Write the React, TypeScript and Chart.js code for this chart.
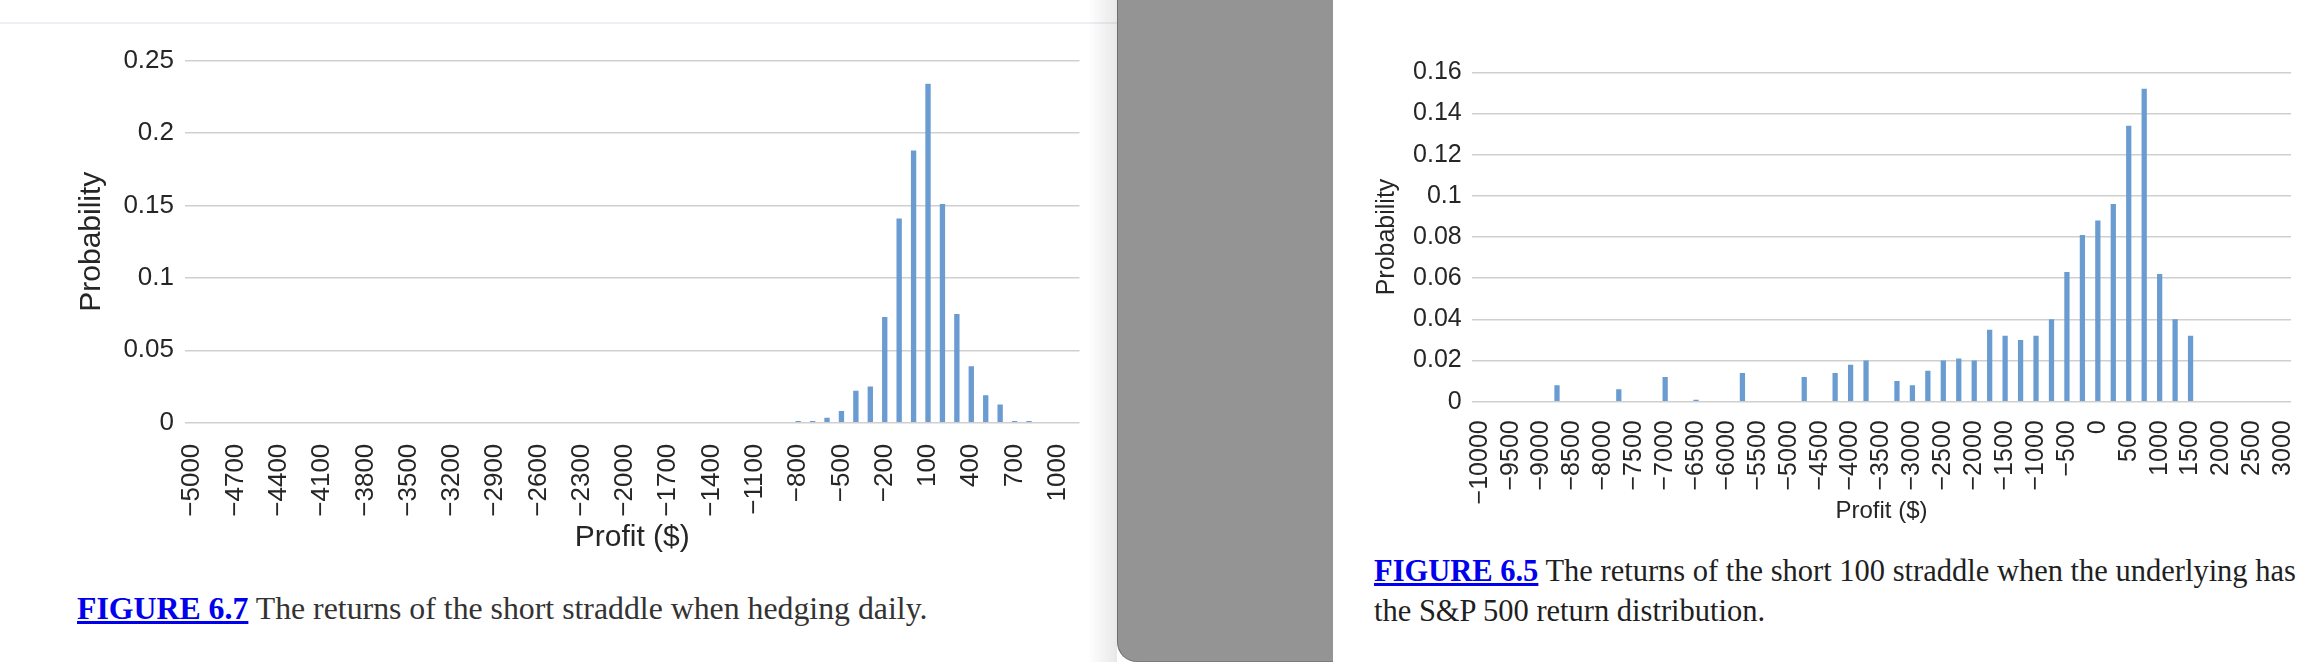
import React, { useEffect, useRef } from "react";
import { Chart, registerables } from "chart.js";

Chart.register(...registerables);

// ---------- DATA ----------
// Figure 6.7: short straddle, hedging daily (profit buckets of $100)
const hedgeProfitCategories = [
  -5000, -4900, -4800, -4700, -4600, -4500, -4400, -4300, -4200, -4100,
  -4000, -3900, -3800, -3700, -3600, -3500, -3400, -3300, -3200, -3100,
  -3000, -2900, -2800, -2700, -2600, -2500, -2400, -2300, -2200, -2100,
  -2000, -1900, -1800, -1700, -1600, -1500, -1400, -1300, -1200, -1100,
  -1000, -900, -800, -700, -600, -500, -400, -300, -200, -100,
  0, 100, 200, 300, 400, 500, 600, 700, 800, 900,
  1000, 1100,
];
const hedgeProbabilities = [
  0, 0, 0, 0, 0, 0, 0, 0, 0, 0,
  0, 0, 0, 0, 0, 0, 0, 0, 0, 0,
  0, 0, 0, 0, 0, 0, 0, 0, 0, 0,
  0, 0, 0, 0, 0, 0, 0, 0, 0, 0,
  0, 0, 0.0012, 0.0012, 0.0035, 0.008, 0.022, 0.025, 0.073, 0.141,
  0.188, 0.234, 0.151, 0.075, 0.039, 0.019, 0.0125, 0.0012, 0.0012, 0,
  0, 0,
];
const hedgeYTicks = [0, 0.05, 0.1, 0.15, 0.2, 0.25];

// Figure 6.5: short 100 straddle, S&P 500 return distribution (buckets of $250)
const spxProfitCategories = [
  -10000, -9750, -9500, -9250, -9000, -8750, -8500, -8250, -8000, -7750,
  -7500, -7250, -7000, -6750, -6500, -6250, -6000, -5750, -5500, -5250,
  -5000, -4750, -4500, -4250, -4000, -3750, -3500, -3250, -3000, -2750,
  -2500, -2250, -2000, -1750, -1500, -1250, -1000, -750, -500, -250,
  0, 250, 500, 750, 1000, 1250, 1500, 1750, 2000, 2250,
  2500, 2750, 3000,
];
const spxProbabilities = [
  0, 0, 0, 0, 0, 0.008, 0, 0, 0, 0.006,
  0, 0, 0.012, 0, 0.001, 0, 0, 0.014, 0, 0,
  0, 0.012, 0, 0.014, 0.018, 0.02, 0, 0.01, 0.008, 0.015,
  0.02, 0.021, 0.02, 0.035, 0.032, 0.03, 0.032, 0.04, 0.063, 0.081,
  0.088, 0.096, 0.134, 0.152, 0.062, 0.04, 0.032, 0, 0, 0,
  0, 0, 0,
];
const spxYTicks = [0, 0.02, 0.04, 0.06, 0.08, 0.1, 0.12, 0.14, 0.16];

// ---------- STYLE ----------
const SANS = "'Liberation Sans', Arial, Helvetica, sans-serif";
const SERIF = "'Liberation Serif', 'Times New Roman', serif";
const BAR_COLOR = "#6a9bd1";
const GRID_COLOR = "#cfcfcf";
const TEXT_COLOR = "#262626";

const fmtProfit = (v: number) => (v < 0 ? "\u2212" + Math.abs(v) : String(v));

type PanelSpec = {
  x: number;
  w: number;
  h: number;
  plotLeft: number;
  plotRight: number;
  plotTop: number;
  plotBottom: number;
  categories: number[];
  values: number[];
  yTicks: number[];
  labelEvery: number;
  barPct: number;
  tickSize: number;
  yTitleSize: number;
  xTitleSize: number;
  yTitlePad: number;
  xTitlePad: number;
  yTickPad: number;
  xTickPad: number;
};

function BarPanel({ spec }: { spec: PanelSpec }) {
  const ref = useRef<HTMLCanvasElement>(null);
  useEffect(() => {
    const s = spec;
    const yMax = s.yTicks[s.yTicks.length - 1];
    const chart = new Chart(ref.current as HTMLCanvasElement, {
      type: "bar",
      data: {
        labels: s.categories.map(fmtProfit),
        datasets: [
          {
            data: s.values,
            backgroundColor: BAR_COLOR,
            borderWidth: 0,
            barPercentage: s.barPct,
            categoryPercentage: 1,
          },
        ],
      },
      options: {
        responsive: false,
        maintainAspectRatio: false,
        animation: false,
        devicePixelRatio: 1,
        layout: {
          padding: { left: 0, top: s.plotTop, right: s.w - s.plotRight, bottom: 0 },
        },
        plugins: {
          legend: { display: false },
          tooltip: { enabled: false },
          title: { display: false },
        },
        scales: {
          x: {
            grid: { display: false },
            border: { display: false },
            ticks: {
              autoSkip: false,
              maxRotation: 90,
              minRotation: 90,
              padding: s.xTickPad,
              color: TEXT_COLOR,
              font: { family: SANS, size: s.tickSize },
              callback: (_v: any, i: number) =>
                i % s.labelEvery === 0 ? fmtProfit(s.categories[i]) : "",
            },
            title: {
              display: true,
              text: "Profit ($)",
              color: TEXT_COLOR,
              font: { family: SANS, size: s.xTitleSize },
              padding: { top: 0, bottom: s.xTitlePad },
            },
            afterFit: (scale: any) => {
              scale.height = s.h - s.plotBottom;
            },
          },
          y: {
            min: 0,
            max: yMax,
            afterBuildTicks: (scale: any) => {
              scale.ticks = s.yTicks.map((v) => ({ value: v }));
            },
            ticks: {
              padding: s.yTickPad,
              color: TEXT_COLOR,
              font: { family: SANS, size: s.tickSize },
              callback: (v: any) => String(Number(v.toFixed(4))),
            },
            grid: { color: GRID_COLOR, lineWidth: 1.5, drawTicks: false },
            border: { display: false },
            title: {
              display: true,
              text: "Probability",
              color: TEXT_COLOR,
              font: { family: SANS, size: s.yTitleSize },
              padding: { top: s.yTitlePad, bottom: 0 },
            },
            afterFit: (scale: any) => {
              scale.width = s.plotLeft;
            },
          },
        },
      } as any,
    });
    return () => chart.destroy();
  }, [spec]);
  return (
    <canvas
      ref={ref}
      width={spec.w}
      height={spec.h}
      style={{ position: "absolute", left: spec.x, top: 0, width: spec.w, height: spec.h }}
    />
  );
}

const leftSpec: PanelSpec = {
  x: 0,
  w: 1125,
  h: 570,
  plotLeft: 185,
  plotRight: 1079.5,
  plotTop: 60.7,
  plotBottom: 422.7,
  categories: hedgeProfitCategories,
  values: hedgeProbabilities,
  yTicks: hedgeYTicks,
  labelEvery: 3,
  barPct: 0.37,
  tickSize: 26,
  yTitleSize: 30,
  xTitleSize: 30,
  yTitlePad: 74,
  xTitlePad: 14,
  yTickPad: 11,
  xTickPad: 13,
};

const rightSpec: PanelSpec = {
  x: 1333,
  w: 1005,
  h: 540,
  plotLeft: 139,
  plotRight: 958,
  plotTop: 72.3,
  plotBottom: 401.7,
  categories: spxProfitCategories,
  values: spxProbabilities,
  yTicks: spxYTicks,
  labelEvery: 2,
  barPct: 0.34,
  tickSize: 25,
  yTitleSize: 25,
  xTitleSize: 24,
  yTitlePad: 39,
  xTitlePad: 14.6,
  yTickPad: 10.3,
  xTickPad: 10.6,
};

export default function App() {
  useEffect(() => {
    document.body.style.margin = "0";
  }, []);
  return (
    <div
      style={{
        position: "fixed",
        left: 0,
        top: 0,
        width: 2320,
        height: 662,
        background: "#ffffff",
        overflow: "hidden",
      }}
    >
      {/* thin top rule of the left page */}
      <div
        style={{ position: "absolute", left: 0, top: 21.5, width: 1117, height: 2, background: "#eef0f5" }}
      />
      <BarPanel spec={leftSpec} />
      <div
        style={{
          position: "absolute",
          left: 77,
          top: 589.3,
          fontFamily: SERIF,
          fontSize: 31.8,
          lineHeight: "40px",
          color: "#333333",
          whiteSpace: "nowrap",
        }}
      >
        <span style={{ color: "#0000ee", fontWeight: "bold", textDecoration: "underline" }}>FIGURE 6.7</span>{" "}
        The returns of the short straddle when hedging daily.
      </div>

      {/* page shadow and grey gutter */}
      <div
        style={{
          position: "absolute",
          left: 1088,
          top: 0,
          width: 29,
          height: 662,
          background: "linear-gradient(to right, rgba(0,0,0,0), rgba(0,0,0,0.09))",
        }}
      />
      <div
        style={{
          position: "absolute",
          left: 1117,
          top: 0,
          width: 216,
          height: 662,
          boxSizing: "border-box",
          background: "#949494",
          borderLeft: "1px solid #6e6e6e",
          borderBottom: "1px solid #7a7a7a",
          borderBottomLeftRadius: 20,
        }}
      />

      <BarPanel spec={rightSpec} />
      <div
        style={{
          position: "absolute",
          left: 1374,
          top: 551.4,
          fontFamily: SERIF,
          fontSize: 30.5,
          lineHeight: "40px",
          color: "#1f1f1f",
          whiteSpace: "nowrap",
        }}
      >
        <span style={{ color: "#0000ee", fontWeight: "bold", textDecoration: "underline" }}>FIGURE 6.5</span>{" "}
        The returns of the short 100 straddle when the underlying has
        <br />
        the S&amp;P 500 return distribution.
      </div>
    </div>
  );
}
